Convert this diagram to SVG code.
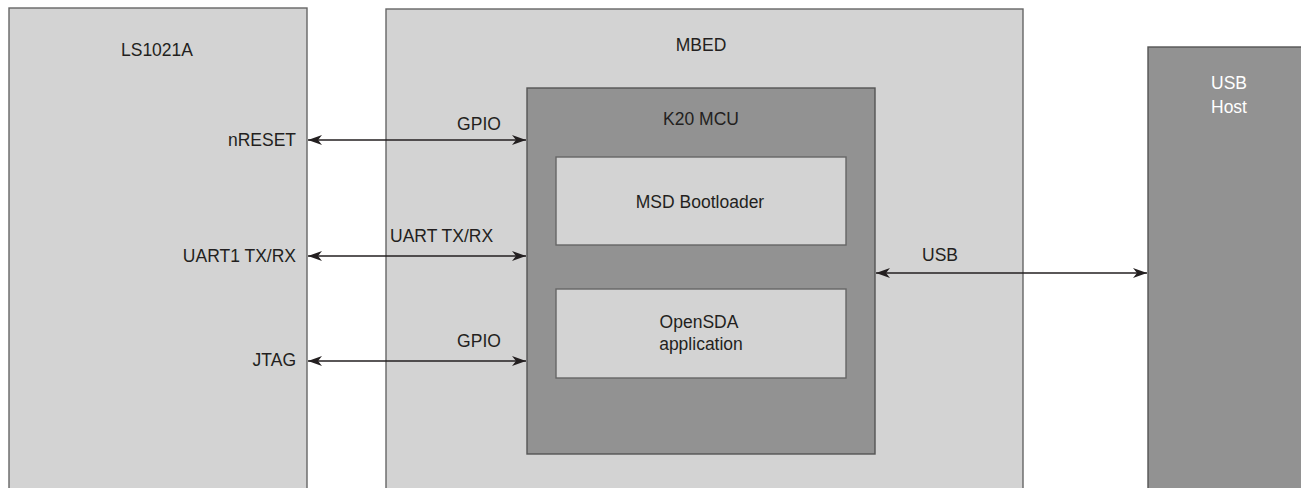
<svg xmlns="http://www.w3.org/2000/svg" width="1301" height="488" viewBox="0 0 1301 488">
<style>
.lt{fill:#d3d3d3;stroke:#666666;stroke-width:1.4}
.dk{fill:#929292;stroke:#555555;stroke-width:1.4}
text{font-family:"Liberation Sans",Arial,sans-serif;font-size:17.5px;fill:#231f20}
.w{fill:#ffffff}
.c{stroke:#231f20;stroke-width:1.3;fill:none}
</style>
<defs>
<marker id="ah" viewBox="0 0 14 10" refX="14" refY="5" markerWidth="14" markerHeight="10" markerUnits="userSpaceOnUse" orient="auto-start-reverse">
<path d="M0,0 L14,5 L0,10 L4,5 Z" fill="#231f20"/>
</marker>
</defs>
<rect width="1301" height="488" fill="#ffffff"/>
<g id="ls1021a">
<rect class="lt" x="9" y="8" width="298" height="490"/>
<text x="157" y="56" text-anchor="middle">LS1021A</text>
<text x="296" y="146" text-anchor="end">nRESET</text>
<text x="296" y="262" text-anchor="end">UART1 TX/RX</text>
<text x="296" y="366" text-anchor="end">JTAG</text>
</g>
<g id="mbed">
<rect class="lt" x="386" y="9" width="637" height="490"/>
<text x="701" y="51" text-anchor="middle">MBED</text>
</g>
<g id="k20">
<rect class="dk" x="527" y="88" width="348" height="366"/>
<text x="701" y="125" text-anchor="middle">K20 MCU</text>
</g>
<g id="msd">
<rect class="lt" x="556" y="157" width="290" height="88"/>
<text x="700" y="208" text-anchor="middle">MSD Bootloader</text>
</g>
<g id="opensda">
<rect class="lt" x="556" y="289" width="290" height="89"/>
<text x="699" y="328" text-anchor="middle">OpenSDA</text>
<text x="701" y="350" text-anchor="middle">application</text>
</g>
<g id="usbhost">
<rect class="dk" x="1148" y="47" width="160" height="450"/>
<text class="w" x="1229" y="89" text-anchor="middle">USB</text>
<text class="w" x="1229" y="113" text-anchor="middle">Host</text>
</g>
<g id="connectors">
<line class="c" x1="308" y1="140" x2="526" y2="140" marker-start="url(#ah)" marker-end="url(#ah)"/>
<text x="479" y="130" text-anchor="middle">GPIO</text>
<line class="c" x1="308" y1="256" x2="526" y2="256" marker-start="url(#ah)" marker-end="url(#ah)"/>
<text x="390" y="242">UART TX/RX</text>
<line class="c" x1="308" y1="361" x2="526" y2="361" marker-start="url(#ah)" marker-end="url(#ah)"/>
<text x="479" y="347" text-anchor="middle">GPIO</text>
<line class="c" x1="876" y1="273" x2="1147" y2="273" marker-start="url(#ah)" marker-end="url(#ah)"/>
<text x="940" y="261" text-anchor="middle">USB</text>
</g>
</svg>
